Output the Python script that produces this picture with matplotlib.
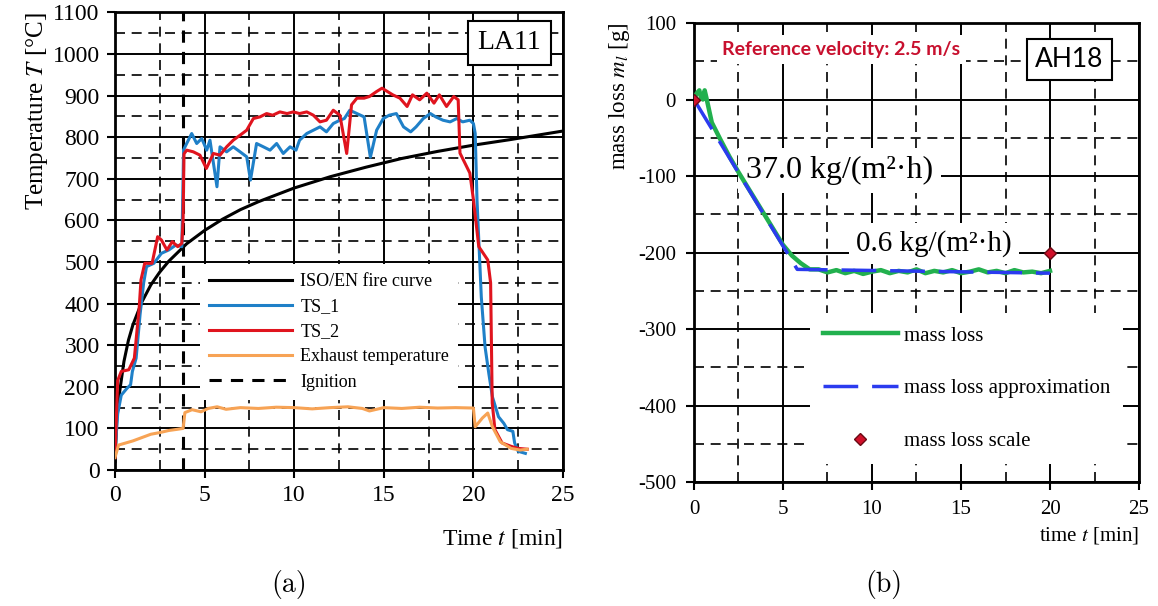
import matplotlib.pyplot as plt
from matplotlib.ticker import MultipleLocator

plt.rcParams['font.family'] = ['Liberation Serif', 'DejaVu Serif']
plt.rcParams['mathtext.fontset'] = 'stix'
plt.rcParams['axes.unicode_minus'] = False

# (a) temperatures, LA11
iso_t = [0, 0.1, 0.25, 0.5, 0.75, 1, 1.5, 2, 2.5, 3, 4, 5, 6, 7, 8, 10, 12, 14, 16, 18, 20, 22, 25]
iso_T = [20, 124, 185, 261, 312, 349, 404, 445, 476, 502, 544, 576, 603, 626, 645, 678, 705, 728, 749, 766, 781, 794, 815]

ts1_t = [0, 0.15, 0.35, 0.66, 0.87, 0.97, 1.18, 1.4, 1.6, 1.76, 2.17, 2.59, 3.0, 3.4, 3.73,
         3.83, 4.0, 4.28, 4.56, 4.84, 5.12, 5.3, 5.69, 5.86, 6.23, 6.6, 6.98, 7.35, 7.56, 7.9,
         8.28, 8.65, 9.02, 9.39, 9.77, 10.1, 10.3, 10.7, 11.07, 11.44, 11.8, 12.18, 12.55, 12.8,
         13.1, 13.5, 13.9, 14.25, 14.6, 14.97, 15.3, 15.7, 16.1, 16.5, 16.8, 17.2, 17.6, 17.9,
         18.3, 18.7, 19.07, 19.4, 19.8, 20.0, 20.1, 20.2, 20.44, 20.65, 20.86, 21.06, 21.4, 21.7,
         21.9, 22.2, 22.3, 22.5, 22.9]
ts1_T = [40, 135, 180, 196, 205, 237, 269, 374, 450, 489, 497, 521, 529, 541, 537,
         770, 785, 809, 785, 797, 769, 793, 681, 777, 765, 777, 765, 753, 697, 785,
         777, 769, 785, 761, 777, 769, 793, 809, 817, 825, 813, 833, 841, 845,
         865, 857, 849, 752, 817, 845, 853, 857, 825, 813, 825, 845, 857, 849,
         841, 837, 845, 837, 841, 833, 809, 650, 416, 296, 232, 176, 128, 112,
         97, 93, 65, 45, 40]

ts2_t = [0, 0.15, 0.35, 0.77, 1.08, 1.35, 1.45, 1.66, 2.07, 2.38, 2.59, 2.9, 3.2, 3.5, 3.73,
         3.8, 3.85, 4.0, 4.37, 4.74, 5.1, 5.49, 5.86, 6.23, 6.6, 6.98, 7.35, 7.72, 8.09, 8.46,
         8.8, 9.2, 9.6, 9.95, 10.3, 10.7, 11.07, 11.44, 11.8, 12.18, 12.55, 12.93, 13.2, 13.5,
         13.9, 14.2, 14.6, 14.9, 15.2, 15.5, 15.9, 16.3, 16.6, 17.0, 17.4, 17.8, 18.1, 18.5,
         18.9, 19.15, 19.25, 19.8, 20.0, 20.3, 20.8, 20.96, 21.05, 21.2, 21.6, 22.1, 22.5, 23.0]
ts2_T = [30, 215, 237, 241, 269, 390, 457, 497, 497, 561, 553, 529, 549, 537, 545,
         600, 760, 769, 765, 757, 725, 761, 757, 777, 793, 805, 817, 845, 849, 857,
         853, 861, 857, 861, 857, 861, 853, 837, 841, 865, 853, 761, 878, 894,
         894, 898, 910, 918, 910, 902, 894, 874, 902, 890, 906, 882, 902, 874,
         898, 890, 762, 714, 650, 537, 505, 450, 161, 97, 65, 57, 52, 50]

exh_t = [0, 0.2, 0.6, 1, 1.5, 2, 2.5, 3, 3.5, 3.8, 3.9, 4.3, 4.8, 5.2, 5.7, 6.2, 7, 8, 9, 10,
         11, 12, 13, 13.8, 14.2, 15, 16, 17, 18, 19, 20.0, 20.1, 20.5, 20.8, 21.06, 21.5, 22.1,
         22.6, 23.0]
exh_T = [30, 60, 65, 70, 78, 86, 90, 95, 98, 100, 138, 145, 140, 148, 152, 146, 150, 148, 151, 150,
         147, 150, 152, 148, 142, 150, 148, 151, 149, 150, 149, 104, 125, 137, 104, 68, 52,
         48, 50]

ignition_t = 3.8

# (b) mass loss, AH18
ml_t = [0, 0.15, 0.3, 0.4, 0.5, 0.6, 0.7, 1.0, 1.5, 2.0, 2.5, 3.0, 3.5, 4.0, 4.5, 5.0, 5.5, 6.0,
        6.5, 7.0, 7.5, 8.0, 8.5, 9.0, 9.5, 10.0, 10.5, 11.0, 11.5, 12.0, 12.5, 13.0, 13.5, 14.0,
        14.5, 15.0, 15.5, 16.0, 16.5, 17.0, 17.5, 18.0, 18.5, 19.0, 19.5, 20.0]
ml_m = [0, 8, 12, 2, 0, 12, 2, -30, -53, -75, -95, -114, -133, -152, -171, -190, -204, -214,
        -222, -222, -226, -223, -227, -224, -228, -225, -223, -227, -224, -226, -222, -227, -224, -226,
        -223, -227, -225, -222, -226, -224, -227, -223, -226, -225, -227, -224]
appr_t = [0, 5.8, 20]
appr_m = [0, -222, -227]
scale_t = [0, 20]
scale_m = [0, -200]

fig = plt.figure(figsize=(11.58, 6.06), dpi=100)
ax1 = fig.add_axes([0.0993, 0.2244, 0.3869, 0.755])
ax2 = fig.add_axes([0.5993, 0.2046, 0.3843, 0.7574])


def style_grid(ax):
    ax.grid(which='major', color='black', linestyle='-', linewidth=1.4)
    ax.grid(which='minor', color='black', linestyle=(0, (6, 4)), linewidth=1.2)
    ax.set_axisbelow(True)
    for s in ax.spines.values():
        s.set_linewidth(2)
    ax.tick_params(which='major', direction='out', length=6, width=1.5, pad=7)
    ax.tick_params(which='minor', length=0)


ax1.plot(iso_t, iso_T, color='black', lw=2.2, label='ISO/EN fire curve', zorder=3)
ax1.plot(ts1_t, ts1_T, color='#1f80c8', lw=2.2, label='TS_1', zorder=3)
ax1.plot(ts2_t, ts2_T, color='#e0141e', lw=2.2, label='TS_2', zorder=3)
ax1.plot(exh_t, exh_T, color='#f7a355', lw=2.2, label='Exhaust temperature', zorder=3)
ax1.axvline(ignition_t, color='black', lw=2.2, linestyle=(0, (4, 3)), label='Ignition', zorder=2.5)
ax1.set_xlim(0, 25)
ax1.set_ylim(0, 1100)
ax1.xaxis.set_major_locator(MultipleLocator(5))
ax1.xaxis.set_minor_locator(MultipleLocator(2.5))
ax1.yaxis.set_major_locator(MultipleLocator(100))
ax1.yaxis.set_minor_locator(MultipleLocator(50))
style_grid(ax1)
ax1.tick_params(labelsize=17, pad=5)
ax1.set_ylabel('Temperature $T$ [°C]', fontsize=18, loc='top', labelpad=2)
ax1.set_xlabel('Time $t$ [min]', fontsize=17, loc='right', labelpad=15)
ax1.text(22.0, 1027, 'LA11', fontsize=20, ha='center', va='center',
         bbox=dict(boxstyle='square,pad=0.35', facecolor='white', edgecolor='black', lw=1.5))
leg1 = ax1.legend(loc='upper left', bbox_to_anchor=(0.17, 0.47), fontsize=13, frameon=True,
                  facecolor='white', edgecolor='none', framealpha=1, fancybox=False,
                  handlelength=4.6, labelspacing=0.45, borderpad=0.5, handletextpad=0.45)

ax2.plot(ml_t, ml_m, color='#22b04e', lw=3.2, label='mass loss', zorder=3)
ax2.plot(appr_t, appr_m, color='#2b3bef', lw=2.5, linestyle=(0, (10, 4)),
         label='mass loss approximation', zorder=3.5)
ax2.plot(scale_t, scale_m, linestyle='none', marker='D', markersize=6, markerfacecolor='#d0102a',
         markeredgecolor='#6a0a14', markeredgewidth=1, label='mass loss scale', zorder=4)
ax2.set_xlim(0, 25)
ax2.set_ylim(-500, 100)
ax2.xaxis.set_major_locator(MultipleLocator(5))
ax2.xaxis.set_minor_locator(MultipleLocator(2.5))
ax2.yaxis.set_major_locator(MultipleLocator(100))
ax2.yaxis.set_minor_locator(MultipleLocator(50))
style_grid(ax2)
ax2.tick_params(labelsize=15)
ax2.set_ylabel('mass loss $m_l$ [g]', fontsize=16.5, loc='top', labelpad=4)
ax2.set_xlabel('time $t$ [min]', fontsize=15, loc='right', labelpad=4)
ax2.text(1.6, 65, 'Reference velocity: 2.5 m/s', fontsize=14, fontfamily='Lato', fontweight='bold',
         color='#c8102e', ha='left', va='center',
         bbox=dict(boxstyle='square,pad=0.3', facecolor='white', edgecolor='none'))
ax2.text(21.1, 52, 'AH18', fontsize=19, fontfamily='Lato', ha='center', va='center',
         bbox=dict(boxstyle='square,pad=0.3', facecolor='white', edgecolor='black', lw=1.5))
ax2.text(2.9, -93, '37.0 kg/(m²·h)', fontsize=23, ha='left', va='center', zorder=2.8,
         bbox=dict(boxstyle='square,pad=0.25', facecolor='white', edgecolor='none'))
ax2.text(9.1, -188, '0.6 kg/(m²·h)', fontsize=21, ha='left', va='center', zorder=2.8,
         bbox=dict(boxstyle='square,pad=0.25', facecolor='white', edgecolor='none'))
leg2 = ax2.legend(loc='upper left', bbox_to_anchor=(0.238, 0.39), fontsize=15, frameon=True,
                  facecolor='white', edgecolor='none', framealpha=1, fancybox=False,
                  handlelength=3.6, labelspacing=1.6, borderpad=0.6, handletextpad=0.3)

fig.text(0.25, 0.035, '(a)', fontsize=20, fontfamily='cmr10', ha='center', va='center')
fig.text(0.763, 0.035, '(b)', fontsize=20, fontfamily='cmr10', ha='center', va='center')

plt.savefig('out.png', dpi=100)
